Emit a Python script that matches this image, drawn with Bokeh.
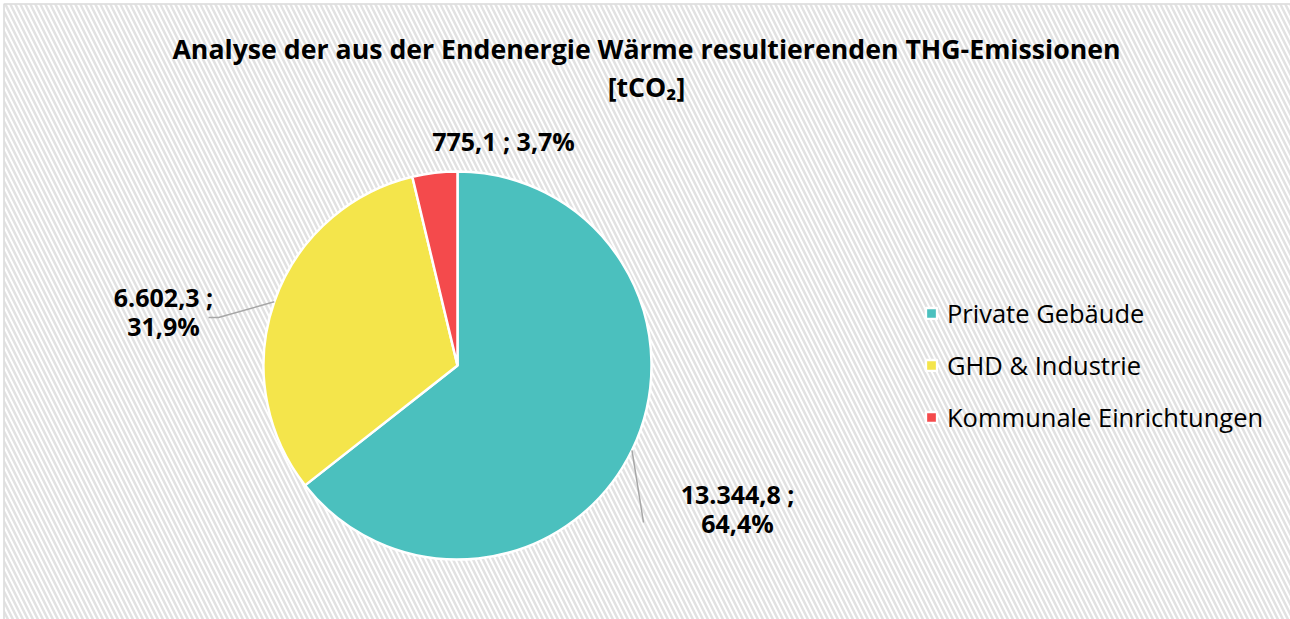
import math
from bokeh.plotting import figure
from bokeh.models import ColumnDataSource, Range1d, Legend, LegendItem
from bokeh.core.properties import value
from bokeh.embed import file_html
from bokeh.resources import INLINE

# ---- data ----
categories = ["Private Gebäude", "GHD & Industrie", "Kommunale Einrichtungen"]
emissions = [13344.8, 6602.3, 775.1]
colors = ["#4BC0BE", "#F4E54B", "#F44A4C"]
title_line1 = "Analyse der aus der Endenergie Wärme resultierenden THG-Emissionen"
title_line2 = "[tCO₂]"

W, H = 1290, 619
FONT = "Open Sans"

def de_num(v):
    s = f"{v:,.1f}"
    return s.replace(",", "X").replace(".", ",").replace("X", ".")

def de_pct(s):
    return f"{s*100:.1f}".replace(".", ",") + "%"

total = sum(emissions)
shares = [v / total for v in emissions]
start, end, mids = [], [], []
cum = 0.0
for s in shares:
    a0 = math.pi / 2 - cum * 2 * math.pi
    cum += s
    a1 = math.pi / 2 - cum * 2 * math.pi
    start.append(a0); end.append(a1); mids.append((a0 + a1) / 2)

def py(y_img):
    return H - y_img

cx, cy, R = 457, py(365), 194

src = ColumnDataSource(dict(cat=categories, val=emissions, color=colors,
                            start=start, end=end))

p = figure(width=W, height=H, output_backend="svg", toolbar_location=None,
           x_range=Range1d(0, W), y_range=Range1d(0, H), min_border=0)
p.axis.visible = False
p.grid.visible = False
p.background_fill_color = "white"
p.border_fill_color = "white"
p.outline_line_color = None

# hatched background
p.quad(left=[4], right=[W], bottom=[0], top=[H - 4], fill_color="white",
       line_color=None, hatch_pattern="\\", hatch_color="#e2e2e2",
       hatch_scale=10, hatch_weight=2.5)
# chart border
p.line(x=[3.5, 3.5, W], y=[0, H - 3.5, H - 3.5], line_color="#d9d9d9", line_width=1.5)

r = p.wedge(x=cx, y=cy, radius=R, start_angle="start", end_angle="end",
            direction="clock", fill_color="color", line_color="white",
            line_width=2.5, source=src)

# labels
labels = [f"{de_num(emissions[0])} ;\n{de_pct(shares[0])}",
          f"{de_num(emissions[1])} ;\n{de_pct(shares[1])}",
          f"{de_num(emissions[2])} ; {de_pct(shares[2])}"]
lab_x = [737, 163, 503]
lab_y = [py(508), py(311), py(140)]
p.text(x=lab_x, y=lab_y, text=labels, text_align="center", text_baseline="middle",
       text_font=value(FONT), text_font_style="bold", text_font_size="25px",
       text_color="black", text_line_height=0.86)

# leader lines
p.line(x=[cx + R * math.cos(mids[0]), 643], y=[cy + R * math.sin(mids[0]), py(522)],
       line_color="#a6a6a6", line_width=1.5)
p.line(x=[cx + R * math.cos(mids[1]), 218, 208],
       y=[cy + R * math.sin(mids[1]), py(317), py(317)],
       line_color="#a6a6a6", line_width=1.5)

# title
p.text(x=[646, 646], y=[py(48), py(86)], text=[title_line1, title_line2],
       text_align="center", text_baseline="middle", text_font=value(FONT),
       text_font_style="bold", text_font_size="26.7px", text_color="black")

legend = Legend(items=[LegendItem(label=c, renderers=[r], index=i) for i, c in enumerate(categories)],
                location=(924, py(434)), orientation="vertical",
                label_text_font=FONT, label_text_font_size="25.5px",
                label_text_color="black",
                glyph_width=14, glyph_height=14, label_height=24, spacing=18,
                label_standoff=9, padding=0, margin=0,
                background_fill_alpha=0, border_line_color=None)
p.add_layout(legend, "center")

open("out.html", "w").write(file_html(p, INLINE))
